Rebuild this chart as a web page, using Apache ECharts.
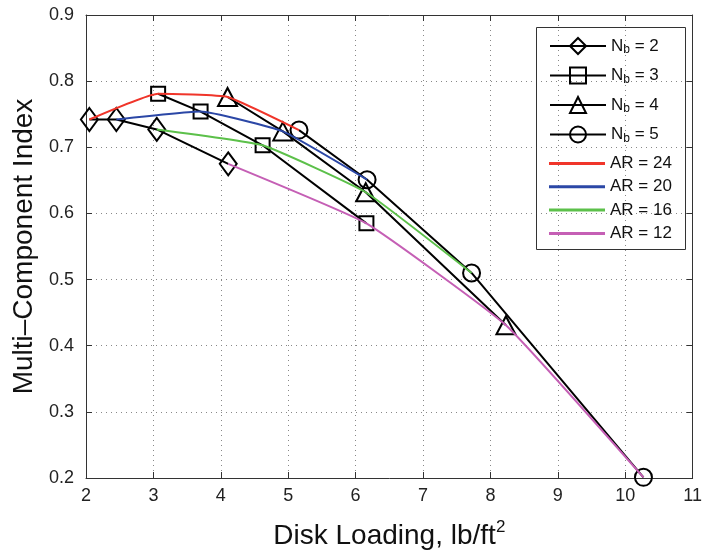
<!DOCTYPE html>
<html>
<head>
<meta charset="utf-8">
<script src="https://cdn.jsdelivr.net/npm/echarts@6/dist/echarts.min.js"></script>
<style>
html,body{margin:0;padding:0;background:#fff;}
#c{width:705px;height:555px;}
</style>
</head>
<body>
<div id="c"></div>
<script>
// ---- data ----
var xTicks = [2, 3, 4, 5, 6, 7, 8, 9, 10, 11];
var yTicks = [0.2, 0.3, 0.4, 0.5, 0.6, 0.7, 0.8, 0.9];

// blade-count curves (index 0..3 -> AR = 24, 20, 16, 12)
var nb2X = [2.05, 2.45, 3.05, 4.11];
var nb2Y = [0.742, 0.742, 0.727, 0.675];
var nb3X = [3.07, 3.70, 4.62, 6.16];
var nb3Y = [0.781, 0.754, 0.703, 0.585];
var nb4X = [4.10, 4.92, 6.15, 8.23];
var nb4Y = [0.776, 0.724, 0.632, 0.431];
var nb5X = [5.16, 6.17, 7.72, 10.27];
var nb5Y = [0.726, 0.651, 0.510, 0.201];

var nbNames = ['N_b = 2', 'N_b = 3', 'N_b = 4', 'N_b = 5'];
var nbSymbols = ['diamond', 'rect', 'triangle', 'circle'];
var arValues = [24, 20, 16, 12];
var arColors = ['#f0352a', '#2b47a6', '#5cc04a', '#c55fb5'];

// ---- build options ----
var nbX = [nb2X, nb3X, nb4X, nb5X];
var nbY = [nb2Y, nb3Y, nb4Y, nb5Y];
var symSizes = [[17, 23], [14, 14], [19, 18], [17, 17]];

function pairs(xs, ys) { return xs.map(function (x, i) { return [x, ys[i]]; }); }

var series = [];
nbNames.forEach(function (nm, k) {
  series.push({
    name: nm, type: 'line', xAxisIndex: 0, yAxisIndex: 0,
    data: pairs(nbX[k], nbY[k]),
    symbol: nbSymbols[k], symbolSize: symSizes[k], showSymbol: true,
    lineStyle: { color: '#000', width: 2 },
    itemStyle: { color: 'rgba(255,255,255,0)', borderColor: '#000', borderWidth: 2 },
    emphasis: { disabled: true }, animation: false, z: 2
  });
});
arValues.forEach(function (ar, i) {
  var xs = nbX.map(function (a) { return a[i]; });
  var ys = nbY.map(function (a) { return a[i]; });
  series.push({
    name: 'AR = ' + ar, type: 'line', xAxisIndex: 0, yAxisIndex: 0,
    data: pairs(xs, ys), symbol: 'none', smooth: 0.12,
    lineStyle: { color: arColors[i], width: 2 },
    itemStyle: { color: arColors[i] },
    emphasis: { disabled: true }, animation: false, z: 3
  });
});

var axisCol = '#333';
var tickFont = { fontFamily: 'Liberation Sans', fontSize: 18, color: '#222' };

var option = {
  animation: false,
  backgroundColor: '#fff',
  grid: { left: 86, right: 12, top: 15, bottom: 69, containLabel: false },
  xAxis: [{
    type: 'value', min: xTicks[0], max: xTicks[xTicks.length - 1], interval: 1,
    position: 'bottom',
    name: '{a|Disk Loading, lb/ft}{s|2}', nameLocation: 'middle', nameGap: 41,
    nameTextStyle: {
      rich: {
        a: { fontFamily: 'Liberation Sans', fontSize: 28, color: '#111', lineHeight: 34 },
        s: { fontFamily: 'Liberation Sans', fontSize: 17, color: '#111', lineHeight: 20, verticalAlign: 'top' }
      }
    },
    axisLine: { show: true, lineStyle: { color: axisCol, width: 1 } },
    axisTick: { show: true, inside: true, length: 6, lineStyle: { color: axisCol } },
    axisLabel: Object.assign({ margin: 9 }, tickFont),
    splitLine: { show: true, lineStyle: { color: '#888', type: [1, 4], width: 1 } }
  }, {
    type: 'value', min: xTicks[0], max: xTicks[xTicks.length - 1], interval: 1,
    position: 'top',
    axisLine: { show: true, lineStyle: { color: axisCol, width: 1 } },
    axisTick: { show: true, inside: true, length: 6, lineStyle: { color: axisCol } },
    axisLabel: { show: false }, splitLine: { show: false }
  }],
  yAxis: [{
    type: 'value', min: yTicks[0], max: yTicks[yTicks.length - 1], interval: 0.1,
    position: 'left',
    name: 'Multi–Component Index', nameLocation: 'middle', nameGap: 34,
    nameTextStyle: { fontFamily: 'Liberation Sans', fontSize: 28, color: '#111' },
    axisLine: { show: true, lineStyle: { color: axisCol, width: 1 } },
    axisTick: { show: true, inside: true, length: 6, lineStyle: { color: axisCol } },
    axisLabel: Object.assign({ margin: 12, formatter: function (v) { return v.toFixed(1); } }, tickFont),
    splitLine: { show: true, lineStyle: { color: '#888', type: [1, 4], width: 1 } }
  }, {
    type: 'value', min: yTicks[0], max: yTicks[yTicks.length - 1], interval: 0.1,
    position: 'right',
    axisLine: { show: true, lineStyle: { color: axisCol, width: 1 } },
    axisTick: { show: true, inside: true, length: 6, lineStyle: { color: axisCol } },
    axisLabel: { show: false }, splitLine: { show: false }
  }],
  legend: [{
    data: nbNames, orient: 'vertical', left: 544, top: 29,
    itemWidth: 56, itemHeight: 20, itemGap: 7.5,
    selectedMode: false,
    formatter: function (n) {
      var p = n.split('_b');
      return '{n|' + p[0] + '}{s|b}{n|' + p[1] + '}';
    },
    textStyle: {
      rich: {
        n: { fontFamily: 'Liberation Sans', fontSize: 17, color: '#111', lineHeight: 20 },
        s: { fontFamily: 'Liberation Sans', fontSize: 12, color: '#111', lineHeight: 20, verticalAlign: 'bottom', padding: [10, 0, 0, 0] }
      }
    }
  }, {
    data: arValues.map(function (a) { return { name: 'AR = ' + a, icon: 'rect' }; }),
    orient: 'vertical', left: 544, top: 150,
    itemWidth: 56, itemHeight: 3, itemGap: 6.3,
    selectedMode: false,
    textStyle: { fontFamily: 'Liberation Sans', fontSize: 17, color: '#111', lineHeight: 17 }
  }],
  graphic: [{
    type: 'rect', left: 534, top: 25, z: 100,
    shape: { width: 149, height: 222 },
    style: { fill: 'none', stroke: '#333', lineWidth: 1 }
  }],
  series: series
};

var chart = echarts.init(document.getElementById('c'), null, { renderer: 'canvas' });
chart.setOption(option);
</script>
</body>
</html>
